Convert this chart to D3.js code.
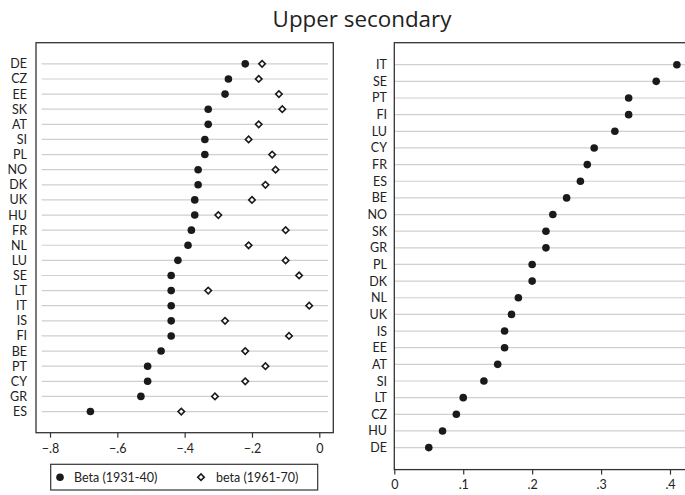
<!DOCTYPE html>
<html>
<head>
<meta charset="utf-8">
<script src="https://cdn.jsdelivr.net/npm/d3@7"></script>
<style>
  html, body { margin: 0; padding: 0; background: #fff; }
  svg { display: block; font-family: Lato, "Open Sans", sans-serif; }
</style>
</head>
<body>
<svg id="chart" width="685" height="495"></svg>
<script>
// Left panel: country order and the two cohort coefficients
const leftCountries = ["DE","CZ","EE","SK","AT","SI","PL","NO","DK","UK","HU","FR",
                       "NL","LU","SE","LT","IT","IS","FI","BE","PT","CY","GR","ES"];
const beta1931 = [-0.22,-0.27,-0.28,-0.33,-0.33,-0.34,-0.34,-0.36,-0.36,-0.37,-0.37,-0.38,
                  -0.39,-0.42,-0.44,-0.44,-0.44,-0.44,-0.44,-0.47,-0.51,-0.51,-0.53,-0.68];
const beta1961 = [-0.17,-0.18,-0.12,-0.11,-0.18,-0.21,-0.14,-0.13,-0.16,-0.20,-0.30,-0.10,
                  -0.21,-0.10,-0.06,-0.33,-0.03,-0.28,-0.09,-0.22,-0.16,-0.22,-0.31,-0.41];
const leftTicks = [-0.8,-0.6,-0.4,-0.2,0];

// Right panel: country order and change in coefficient
const rightCountries = ["IT","SE","PT","FI","LU","CY","FR","ES","BE","NO","SK","GR",
                        "PL","DK","NL","UK","IS","EE","AT","SI","LT","CZ","HU","DE"];
const rightValues = [0.41,0.38,0.34,0.34,0.32,0.29,0.28,0.27,0.25,0.23,0.22,0.22,
                     0.20,0.20,0.18,0.17,0.16,0.16,0.15,0.13,0.10,0.09,0.07,0.05];
const rightTicks = [0,0.1,0.2,0.3,0.4];

const legendLabels = ["Beta (1931-40)", "beta (1961-70)"];
const titleText = "Upper secondary";

const svg = d3.select("#chart");
const frameColor = "#333";
const gridColor = "#cfcfcf";
const inkColor = "#1a1a1a";
const textColor = "#222";
const labelSize = 12.5;

const fmt = v => v === 0 ? "0" : d3.format(".1f")(v).replace("0.", ".");
const diamondPath = d3.symbol().type(d3.symbolSquare).size(21)();

// title, sized to span its intended width
const title = svg.append("text")
  .attr("x", 362).attr("y", 26.5)
  .attr("text-anchor", "middle")
  .attr("font-family", '"Open Sans", sans-serif')
  .attr("font-size", 22)
  .attr("fill", textColor)
  .text(titleText);
const tw = title.node().getComputedTextLength();
if (tw > 0) title.attr("font-size", 22 * 179 / tw);

function panel(opts) {
  const g = svg.append("g");
  const x = d3.scaleLinear().domain(opts.xDomain).range(opts.xRange);
  const y = d3.scalePoint().domain(opts.countries).range([opts.top, opts.bottom]).padding(opts.pad);

  // grid line for each country
  g.selectAll("line.grid").data(opts.countries).join("line")
    .attr("class", "grid")
    .attr("x1", opts.gridX[0]).attr("x2", opts.gridX[1])
    .attr("y1", d => y(d)).attr("y2", d => y(d))
    .attr("stroke", gridColor).attr("stroke-width", 1.2);

  // frame
  g.append("rect")
    .attr("x", opts.left).attr("y", opts.top)
    .attr("width", opts.right - opts.left).attr("height", opts.bottom - opts.top)
    .attr("fill", "none").attr("stroke", frameColor).attr("stroke-width", 1.3);

  // country labels
  g.selectAll("text.cty").data(opts.countries).join("text")
    .attr("class", "cty")
    .attr("x", opts.labelX).attr("y", d => y(d))
    .attr("dy", "0.36em")
    .attr("text-anchor", "end")
    .attr("font-size", labelSize)
    .attr("fill", textColor)
    .text(d => d);

  // bottom axis
  const ax = g.append("g")
    .attr("transform", `translate(0,${opts.bottom})`)
    .call(d3.axisBottom(x).tickValues(opts.ticks).tickFormat(fmt).tickSize(5).tickPadding(6));
  ax.select(".domain").remove();
  ax.selectAll(".tick line").attr("stroke", frameColor).attr("stroke-width", 1.2);
  ax.selectAll(".tick text").attr("font-size", labelSize).attr("fill", textColor)
    .attr("font-family", 'Lato, "Open Sans", sans-serif');

  return { g, x, y };
}

// Left panel
const L = panel({
  countries: leftCountries, xDomain: [-0.8, 0], xRange: [50, 319.3],
  left: 36, right: 333.3, top: 42.7, bottom: 432.7, pad: 1.4,
  gridX: [41.7, 328], labelX: 27, ticks: leftTicks
});
L.g.selectAll("circle.b31").data(leftCountries).join("circle")
  .attr("cx", (d, i) => L.x(beta1931[i])).attr("cy", d => L.y(d))
  .attr("r", 3.8).attr("fill", inkColor);
L.g.selectAll("path.b61").data(leftCountries).join("path")
  .attr("transform", (d, i) => `translate(${L.x(beta1961[i])},${L.y(d)}) rotate(45)`)
  .attr("d", diamondPath)
  .attr("fill", "#fff").attr("stroke", inkColor).attr("stroke-width", 1.6);

// Right panel
const R = panel({
  countries: rightCountries, xDomain: [0, 0.4], xRange: [394.3, 670],
  left: 394.3, right: 720, top: 42.7, bottom: 469.6, pad: 1.32,
  gridX: [395, 685], labelX: 387, ticks: rightTicks
});
R.g.selectAll("circle.d").data(rightCountries).join("circle")
  .attr("cx", (d, i) => R.x(rightValues[i])).attr("cy", d => R.y(d))
  .attr("r", 3.8).attr("fill", inkColor);

// Legend
const lg = svg.append("g");
lg.append("rect")
  .attr("x", 50.7).attr("y", 464.3).attr("width", 267).attr("height", 25.7)
  .attr("fill", "#fff").attr("stroke", frameColor).attr("stroke-width", 1.2);
lg.append("circle").attr("cx", 60).attr("cy", 477.2).attr("r", 3.8).attr("fill", inkColor);
lg.append("text").attr("x", 74).attr("y", 477.2).attr("dy", "0.36em")
  .attr("font-size", labelSize).attr("fill", textColor).text(legendLabels[0]);
lg.append("path")
  .attr("transform", "translate(201,477.2) rotate(45)")
  .attr("d", diamondPath)
  .attr("fill", "#fff").attr("stroke", inkColor).attr("stroke-width", 1.6);
lg.append("text").attr("x", 216).attr("y", 477.2).attr("dy", "0.36em")
  .attr("font-size", labelSize).attr("fill", textColor).text(legendLabels[1]);
</script>
</body>
</html>
